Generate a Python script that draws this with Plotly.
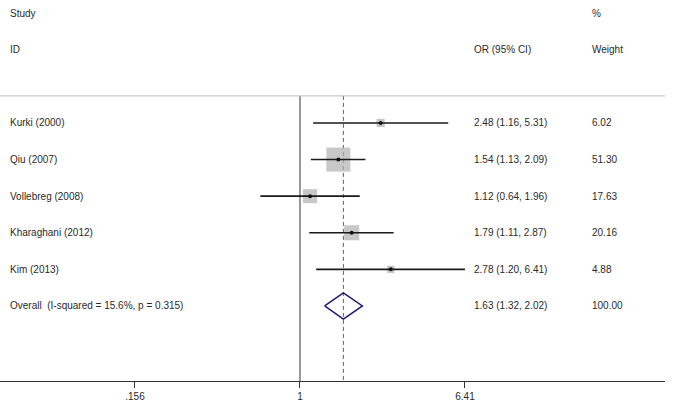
import plotly.graph_objects as go

# study data
studies = ["Kurki (2000)", "Qiu (2007)", "Vollebreg (2008)", "Kharaghani (2012)", "Kim (2013)"]
odds = [2.48, 1.54, 1.12, 1.79, 2.78]
ci_lo = [1.16, 1.13, 0.64, 1.11, 1.20]
ci_hi = [5.31, 2.09, 1.96, 2.87, 6.41]
weights = [6.02, 51.30, 17.63, 20.16, 4.88]

overall_label = "Overall  (I-squared = 15.6%, p = 0.315)"
overall_or = 1.63
overall_lo = 1.32
overall_hi = 2.02

tick_vals = [0.156, 1, 6.41]
tick_text = [".156", "1", "6.41"]

FONT = "Liberation Sans, Arial, sans-serif"
TXT = "#2a2a2a"

rows = list(range(len(studies)))
row_overall = len(studies)
sep_row = -0.74
bottom_row = 7.05

fig = go.Figure()

# reference line at 1 and dashed line at overall estimate
fig.add_trace(go.Scatter(x=[1, 1], y=[sep_row, bottom_row], mode="lines",
                         line=dict(color="#555555", width=1.2), hoverinfo="skip"))
fig.add_trace(go.Scatter(x=[overall_or, overall_or], y=[sep_row, bottom_row], mode="lines",
                         line=dict(color="#b83a3a", width=1, dash="4px,3px"), hoverinfo="skip"))

# weight boxes
box_sizes = [24 * (w / max(weights)) ** 0.5 for w in weights]
fig.add_trace(go.Scatter(x=odds, y=rows, mode="markers",
                         marker=dict(symbol="square", size=box_sizes, color="#b0b0b0",
                                     line=dict(width=0)), hoverinfo="skip"))

# confidence intervals
for i in rows:
    fig.add_trace(go.Scatter(x=[ci_lo[i], ci_hi[i]], y=[i, i], mode="lines",
                             line=dict(color="#1a1a1a", width=1.6), hoverinfo="skip"))

# point estimates
fig.add_trace(go.Scatter(x=odds, y=rows, mode="markers",
                         marker=dict(symbol="circle", size=4, color="#111111"), hoverinfo="skip"))

# overall diamond
h = 0.36
fig.add_trace(go.Scatter(x=[overall_lo, overall_or, overall_hi, overall_or, overall_lo],
                         y=[row_overall, row_overall - h, row_overall, row_overall + h, row_overall],
                         mode="lines", line=dict(color="#1c1c6e", width=1.5), hoverinfo="skip"))

# separator under the header
fig.add_shape(type="line", xref="paper", yref="y", x0=0, x1=1, y0=sep_row, y1=sep_row,
              line=dict(color="#bdbdbd", width=1))

ann = []
def txt(x, y, s):
    ann.append(dict(x=x, y=y, xref="paper", yref="y", text=s, showarrow=False,
                    xanchor="left", yanchor="middle", font=dict(family=FONT, size=10, color=TXT)))

col_id = 8 / 665
col_or = 472 / 665
col_w = 590 / 665

txt(col_id, -3, "Study")
txt(col_id, -2, "ID")
txt(col_or, -2, "OR (95% CI)")
txt(col_w, -3, "%")
txt(col_w, -2, "Weight")

for i in rows:
    txt(col_id, i, studies[i])
    txt(col_or, i, "%.2f (%.2f, %.2f)" % (odds[i], ci_lo[i], ci_hi[i]))
    txt(col_w, i, "%.2f" % weights[i])

txt(col_id, row_overall, overall_label)
txt(col_or, row_overall, "%.2f (%.2f, %.2f)" % (overall_or, overall_lo, overall_hi))
txt(col_w, row_overall, "100.00")

fig.update_layout(
    width=683, height=409,
    margin=dict(l=0, r=18, t=0, b=28),
    paper_bgcolor="white", plot_bgcolor="white",
    showlegend=False,
    annotations=ann,
    xaxis=dict(type="log", range=[-1.467, 1.785], showgrid=False, zeroline=False,
               showline=True, linecolor="#333333", linewidth=1.2,
               ticks="outside", ticklen=6, tickcolor="#333333",
               tickvals=tick_vals, ticktext=tick_text,
               tickfont=dict(family=FONT, size=10, color=TXT)),
    yaxis=dict(range=[bottom_row, -3.36], visible=False, showgrid=False, zeroline=False),
)

# drop the browser's default body margin so the figure sits at the page corner
fig.write_html("out.html", config={"displayModeBar": False},
               post_script="document.body.style.margin='0';")
